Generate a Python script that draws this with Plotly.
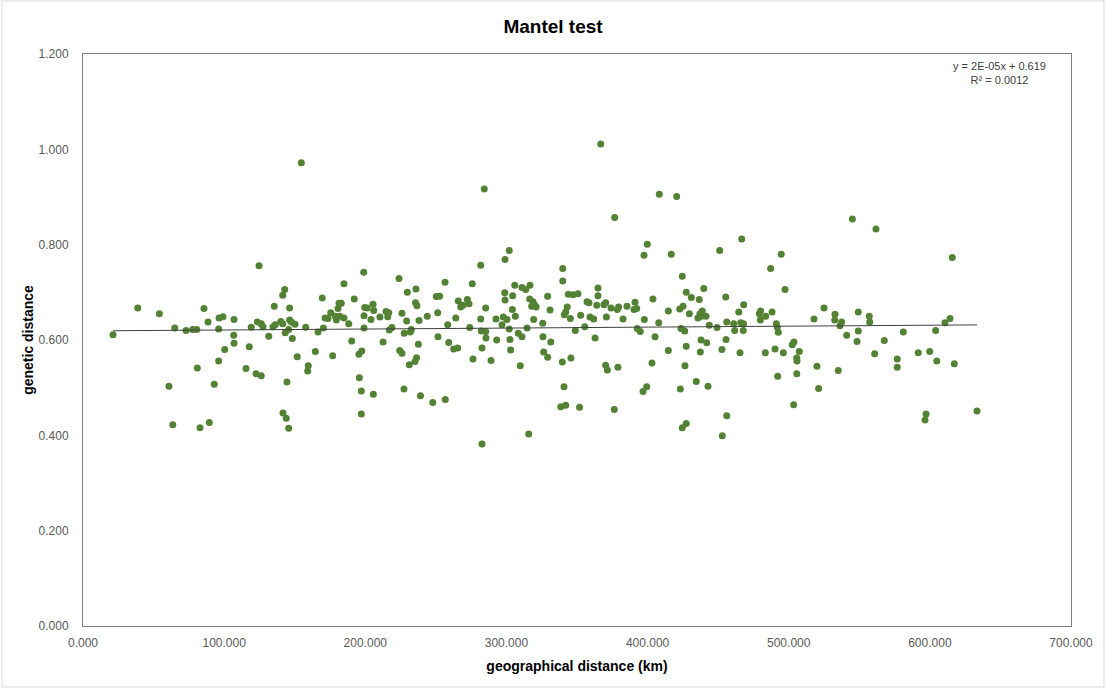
import plotly.graph_objects as go

# Pairwise geographical distance (km) and genetic distance
geo_km = [
    21.3, 38.8, 54.1, 85.7, 88.6, 96.4, 99.2, 107.0, 65.0, 73.0, 77.7, 80.6, 96.1, 119.2,
    106.8, 107.0, 117.8, 100.4, 96.1, 81.0, 115.5, 60.9, 93.0, 63.6, 82.9, 89.5,
    154.7, 124.7, 142.9, 141.5, 184.9, 198.9, 223.9, 229.8, 235.9,
    135.5, 146.4, 169.5, 192.2, 181.4, 183.0, 180.7, 175.5, 171.5, 173.6, 178.8, 179.5,
    181.9, 184.9, 188.3, 123.5, 126.3, 127.5, 134.6, 136.2, 140.1, 141.5, 146.4, 147.6,
    150.2, 157.8, 145.7, 143.3, 131.6, 148.3, 166.5, 170.3, 199.1, 199.1, 199.6, 201.4,
    205.5, 206.0, 204.0, 210.4, 214.7, 215.9, 216.6, 226.0, 229.3, 235.6, 236.6, 217.0,
    218.9, 227.6, 231.9, 232.6, 237.6, 122.6, 126.3, 190.4, 212.6, 164.6, 151.8, 176.9,
    195.5, 197.5, 224.4, 226.0, 235.2, 236.3, 231.2, 159.6, 159.2, 144.5, 195.8, 197.2,
    205.7, 227.4, 239.1, 141.7, 144.0, 145.7, 197.2,
    284.3, 302.0, 299.0, 281.8, 339.9, 339.9, 256.5, 275.8, 305.9, 311.0, 313.7, 316.7,
    250.3, 252.7, 243.9, 238.1, 251.3, 258.4, 264.1, 265.9, 272.3, 267.6, 269.2, 273.5,
    285.3, 281.8, 274.0, 251.5, 259.1, 262.6, 265.5, 276.3, 282.7, 282.2, 285.3, 285.5,
    289.1, 293.1, 292.6, 298.8, 304.4, 299.0, 304.2, 306.3, 297.8, 300.4, 296.9, 302.0,
    302.5, 303.0, 308.4, 311.0, 314.6, 309.8, 316.5, 318.8, 317.9, 320.2, 321.0, 319.3,
    325.7, 325.9, 331.4, 326.4, 329.2, 329.2, 330.9, 343.8, 347.2, 350.7, 343.1, 342.0,
    341.0, 345.3, 352.6, 348.8, 339.6, 345.7, 247.8, 256.7, 340.8, 338.5, 342.0, 351.8,
    315.8, 282.7,
    366.8, 408.3, 420.6, 376.7, 399.8, 397.5, 416.8, 466.7, 451.1, 424.6, 364.9, 439.8,
    427.4, 364.9, 357.1, 358.5, 364.0, 369.1, 370.3, 374.1, 378.6, 379.5, 385.4, 391.1,
    390.4, 392.3, 403.8, 431.0, 436.6, 455.4, 468.1, 464.6, 414.7, 422.8, 425.1, 429.6,
    438.8, 437.1, 435.7, 438.3, 441.4, 359.2, 361.8, 370.8, 382.6, 397.7, 407.9, 355.5,
    392.7, 394.8, 423.7, 426.3, 443.7, 449.2, 456.1, 461.0, 466.0, 468.0, 461.7, 467.8,
    362.8, 405.3, 437.9, 441.9, 455.6, 427.4, 414.7, 437.4, 452.7, 465.5, 403.1, 426.5,
    370.3, 371.5, 379.0, 434.5, 442.8, 399.4, 396.8, 423.2, 376.4, 456.1, 427.4, 424.6,
    452.9,
    545.1, 561.8, 494.7, 487.2, 497.4, 480.1, 479.2, 483.7, 488.2, 479.9, 491.2, 491.9,
    492.6, 525.0, 517.9, 532.8, 532.6, 537.5, 536.3, 549.3, 557.1, 557.4, 549.3, 541.1,
    548.4, 567.7, 581.2, 560.9, 576.9, 576.9, 483.4, 490.3, 496.2, 503.7, 502.5, 507.5,
    505.7, 505.9, 520.0, 535.1, 492.2, 505.7, 521.2, 503.5,
    615.9, 614.3, 610.7, 604.1, 591.8, 599.9, 604.9, 617.3, 597.3, 596.6, 633.4,
]
genetic_dist = [
    0.611, 0.667, 0.655, 0.666, 0.638, 0.646, 0.649, 0.643, 0.625, 0.620, 0.622, 0.622, 0.623, 0.627,
    0.610, 0.593, 0.586, 0.580, 0.556, 0.541, 0.540, 0.503, 0.507, 0.422, 0.416, 0.427,
    0.972, 0.756, 0.706, 0.694, 0.718, 0.742, 0.729, 0.700, 0.707,
    0.671, 0.667, 0.688, 0.686, 0.677, 0.677, 0.666, 0.657, 0.646, 0.645, 0.650, 0.642,
    0.650, 0.646, 0.634, 0.638, 0.634, 0.628, 0.628, 0.632, 0.639, 0.634, 0.642, 0.638,
    0.633, 0.627, 0.622, 0.615, 0.608, 0.603, 0.617, 0.625, 0.625, 0.651, 0.668, 0.667,
    0.675, 0.662, 0.643, 0.648, 0.660, 0.649, 0.657, 0.656, 0.640, 0.678, 0.672, 0.621,
    0.626, 0.614, 0.617, 0.622, 0.591, 0.529, 0.525, 0.598, 0.596, 0.576, 0.565, 0.567,
    0.570, 0.577, 0.578, 0.572, 0.555, 0.563, 0.548, 0.546, 0.535, 0.512, 0.521, 0.493,
    0.486, 0.497, 0.483, 0.447, 0.436, 0.415, 0.445,
    0.917, 0.788, 0.769, 0.757, 0.750, 0.724, 0.721, 0.718, 0.715, 0.710, 0.706, 0.715,
    0.691, 0.692, 0.650, 0.641, 0.657, 0.632, 0.646, 0.682, 0.685, 0.669, 0.673, 0.676,
    0.667, 0.644, 0.626, 0.607, 0.595, 0.581, 0.583, 0.560, 0.583, 0.619, 0.618, 0.604,
    0.557, 0.600, 0.644, 0.699, 0.693, 0.684, 0.664, 0.650, 0.648, 0.643, 0.632, 0.623,
    0.601, 0.579, 0.614, 0.607, 0.625, 0.546, 0.686, 0.680, 0.671, 0.673, 0.669, 0.643,
    0.635, 0.607, 0.596, 0.575, 0.564, 0.692, 0.663, 0.696, 0.695, 0.697, 0.669, 0.659,
    0.653, 0.645, 0.652, 0.620, 0.554, 0.562, 0.469, 0.475, 0.502, 0.460, 0.463, 0.459,
    0.403, 0.382,
    1.011, 0.906, 0.901, 0.857, 0.801, 0.778, 0.780, 0.812, 0.788, 0.734, 0.709, 0.708,
    0.700, 0.693, 0.680, 0.678, 0.673, 0.674, 0.678, 0.667, 0.664, 0.669, 0.671, 0.679,
    0.664, 0.666, 0.686, 0.689, 0.685, 0.690, 0.674, 0.659, 0.661, 0.665, 0.671, 0.655,
    0.661, 0.655, 0.646, 0.650, 0.650, 0.648, 0.644, 0.648, 0.644, 0.643, 0.636, 0.628,
    0.624, 0.618, 0.624, 0.619, 0.631, 0.626, 0.638, 0.634, 0.636, 0.634, 0.620, 0.620,
    0.604, 0.607, 0.600, 0.594, 0.601, 0.587, 0.578, 0.575, 0.580, 0.573, 0.552, 0.546,
    0.547, 0.537, 0.543, 0.513, 0.503, 0.502, 0.492, 0.497, 0.454, 0.441, 0.425, 0.416,
    0.399,
    0.854, 0.833, 0.780, 0.750, 0.706, 0.661, 0.655, 0.650, 0.659, 0.642, 0.634, 0.627,
    0.616, 0.667, 0.644, 0.654, 0.642, 0.638, 0.630, 0.659, 0.650, 0.638, 0.619, 0.610,
    0.597, 0.599, 0.617, 0.571, 0.560, 0.543, 0.573, 0.581, 0.573, 0.596, 0.590, 0.576,
    0.562, 0.556, 0.545, 0.536, 0.524, 0.529, 0.498, 0.464,
    0.773, 0.645, 0.636, 0.620, 0.573, 0.576, 0.556, 0.550, 0.445, 0.432, 0.451,
]

# Linear trendline as reported: y = 2E-05x + 0.619
slope = 2e-05
intercept = 0.619
trend_x = [min(geo_km), max(geo_km)]
trend_y = [intercept + slope * v for v in trend_x]

fig = go.Figure()
fig.add_trace(go.Scatter(
    x=geo_km, y=genetic_dist, mode="markers",
    marker=dict(color="#548235", size=7, line=dict(width=0)),
    showlegend=False, hoverinfo="x+y",
))
fig.add_trace(go.Scatter(
    x=trend_x, y=trend_y, mode="lines",
    line=dict(color="#404040", width=1),
    showlegend=False, hoverinfo="skip",
))

tick_font = dict(family="Liberation Sans, Arial, sans-serif", size=12, color="#595959")
title_font = dict(family="Liberation Sans, Arial, sans-serif", size=14, color="#000000")

fig.update_layout(
    width=1106, height=689,
    margin=dict(l=83, r=35, t=54, b=63),
    paper_bgcolor="white", plot_bgcolor="white",
    title=dict(
        text="<b>Mantel test</b>", x=0.5, xanchor="center", y=0.962, yanchor="middle",
        font=dict(family="Liberation Sans, Arial, sans-serif", size=19, color="#000000"),
    ),
    xaxis=dict(
        range=[0, 700], dtick=100, tick0=0, tickformat=".3f",
        showgrid=False, zeroline=False,
        showline=True, linecolor="#808080", linewidth=1, mirror=True,
        ticks="", tickfont=tick_font, ticklabelstandoff=6,
        title=dict(text="<b>geographical distance (km)</b>", font=title_font, standoff=11),
    ),
    yaxis=dict(
        range=[0, 1.2], dtick=0.2, tick0=0, tickformat=".3f",
        showgrid=False, zeroline=False,
        showline=True, linecolor="#808080", linewidth=1, mirror=True,
        ticks="", tickfont=tick_font, ticklabelstandoff=11,
        title=dict(text="<b>genetic distance</b>", font=title_font, standoff=1),
    ),
    annotations=[dict(
        xref="paper", yref="paper", x=0.928, y=0.993, xanchor="center", yanchor="top",
        text="y = 2E-05x + 0.619<br>R² = 0.0012", showarrow=False, align="center",
        font=dict(family="Liberation Sans, Arial, sans-serif", size=11, color="#404040"),
    )],
    shapes=[dict(
        type="rect", xref="paper", yref="paper",
        x0=-0.0820, x1=1.0334, y0=-0.1066, y1=1.0927,
        line=dict(color="#d9d9d9", width=1), fillcolor="rgba(0,0,0,0)", layer="below",
    )],
)

fig.write_html("out.html")
